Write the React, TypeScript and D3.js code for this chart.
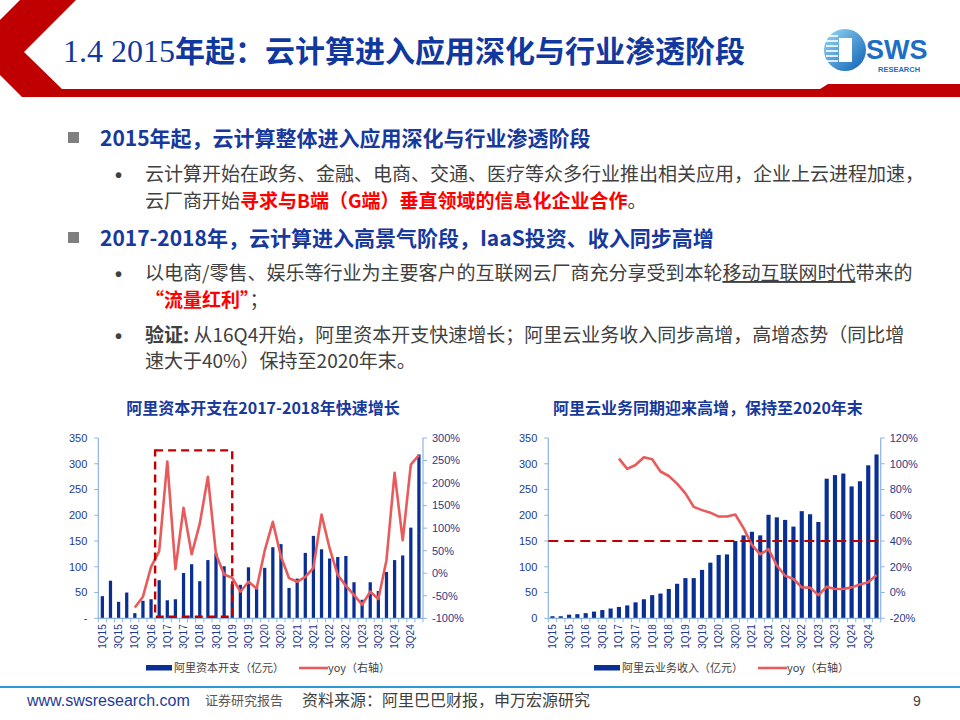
import React from 'react';
import * as d3 from 'd3';

// quarters shown on both charts
const quarters = [
  '1Q15', '2Q15', '3Q15', '4Q15', '1Q16', '2Q16', '3Q16', '4Q16',
  '1Q17', '2Q17', '3Q17', '4Q17', '1Q18', '2Q18', '3Q18', '4Q18',
  '1Q19', '2Q19', '3Q19', '4Q19', '1Q20', '2Q20', '3Q20', '4Q20',
  '1Q21', '2Q21', '3Q21', '4Q21', '1Q22', '2Q22', '3Q22', '4Q22',
  '1Q23', '2Q23', '3Q23', '4Q23', '1Q24', '2Q24', '3Q24', '4Q24',
];

// 阿里资本开支（亿元）
const capex = [
  43, 73, 32, 50, 10, 34, 37, 74,
  35, 37, 88, 105, 72, 113, 126, 101,
  66, 65, 99, 61, 98, 138, 144, 59,
  77, 127, 160, 134, 116, 119, 121, 70,
  36, 70, 53, 90, 113, 122, 176, 318,
];
// yoy（右轴）, %
const capexYoy = [
  null, null, null, null, -76, -52, 14, 49,
  248, 9, 145, 42, 110, 214, 42, -3,
  -10, -41, -19, -34, 50, 114, 37, -11,
  -19, -8, 12, 130, 55, -4, -28, -48,
  -70, -41, -57, 29, 223, 73, 241, 262,
];

// 阿里云业务收入（亿元）
const cloudRevenue = [
  4, 4, 7, 8, 10, 13, 16, 19,
  22, 25, 31, 37, 45, 48, 57, 67,
  78, 78, 94, 108, 123, 124, 150, 161,
  168, 161, 201, 196, 191, 178, 208, 202,
  187, 271, 278, 281, 256, 266, 297, 318,
];
const cloudYoy = [
  null, null, null, null, null, null, null, null,
  104, 96, 99, 105, 103.5, 94, 90.5, 84.6,
  77, 66.5, 64, 62, 59, 59, 60.6, 50,
  37, 29.6, 33.7, 21, 13, 10.5, 4, 3.8,
  -2, 4.5, 2.7, 2.7, 4, 6.3, 8, 13.6,
];

const amountTicks = [0, 50, 100, 150, 200, 250, 300, 350];
const capexYoyTicks = [-100, -50, 0, 50, 100, 150, 200, 250, 300];
const cloudYoyTicks = [-20, 0, 20, 40, 60, 80, 100, 120];

// dashed highlight box on the capex chart
const highlightFrom = '4Q16';
const highlightTo = '1Q19';
const highlightTop = 326;
const highlightBottom = 3;
// dashed threshold on the cloud chart
const yoyThreshold = 40;

const BLUE = '#0A2F93';
const RED_LINE = '#E95A5B';
const DARK_RED = '#C00000';
const AXIS = '#8DB3E2';
const TICK_TXT = '#1F3A8A';
const SANS = "'Liberation Sans', Arial, 'Noto Sans CJK SC', sans-serif";
const CJK = "'Noto Sans CJK SC', 'Liberation Sans', sans-serif";

const DualChart = (props) => {
  const { left, right, top, bottom, bars, yoy, rDomain, rTicks, barFrac,
    zeroDash, title, titleX, legendBar, legendLine, legendX, box, threshold } = props;

  const x = d3.scaleBand().domain(quarters).range([left, right]);
  const y = d3.scaleLinear().domain([0, 350]).range([bottom, top]);
  const r = d3.scaleLinear().domain(rDomain).range([bottom, top]);
  const cx = (q) => x(q) + x.bandwidth() / 2;
  const bw = x.bandwidth() * barFrac;

  const pts = quarters.map((q, i) => [q, yoy[i]]);
  const line = d3.line()
    .defined(d => d[1] != null)
    .x(d => cx(d[0]))
    .y(d => r(d[1]));

  return (
    <g>
      <text x={titleX} y={414} textAnchor="middle" fontFamily={CJK} fontWeight="bold"
        fontSize={16} fill="#17389C">{title}</text>

      {/* bars */}
      {quarters.map((q, i) => (
        <rect key={q} x={cx(q) - bw / 2} y={y(bars[i])} width={bw}
          height={y(0) - y(bars[i])} fill={BLUE} />
      ))}

      {/* axes */}
      <line x1={left} x2={left} y1={top} y2={bottom} stroke={AXIS} strokeWidth={1.2} />
      <line x1={right} x2={right} y1={top} y2={bottom} stroke={AXIS} strokeWidth={1.2} />
      <line x1={left} x2={right} y1={bottom} y2={bottom} stroke={AXIS} strokeWidth={1.2} />
      {quarters.map(q => (
        <line key={'t' + q} x1={x(q)} x2={x(q)} y1={bottom} y2={bottom + 4} stroke={AXIS} />
      ))}
      <line x1={right} x2={right} y1={bottom} y2={bottom + 4} stroke={AXIS} />
      {amountTicks.map(v => (
        <g key={'l' + v}>
          <line x1={left - 4} x2={left} y1={y(v)} y2={y(v)} stroke={AXIS} />
          <text x={left - 11} y={y(v)} dy="0.35em" textAnchor="end" fontFamily={SANS}
            fontSize={11} fill={TICK_TXT}>{v === 0 && zeroDash ? '-' : v}</text>
        </g>
      ))}
      {rTicks.map(v => (
        <g key={'r' + v}>
          <line x1={right} x2={right + 4} y1={r(v)} y2={r(v)} stroke={AXIS} />
          <text x={right + 9} y={r(v)} dy="0.35em" fontFamily={SANS}
            fontSize={11} fill={TICK_TXT}>{v + '%'}</text>
        </g>
      ))}
      {quarters.filter((q, i) => i % 2 === 0).map(q => (
        <text key={'x' + q} transform={`translate(${cx(q) + 3.5},${bottom + 6}) rotate(-90)`}
          textAnchor="end" fontFamily={SANS} fontSize={10} fill={TICK_TXT}>{q}</text>
      ))}

      {/* yoy line */}
      <path d={line(pts)} fill="none" stroke={RED_LINE} strokeWidth={2.6} strokeLinejoin="round" />

      {box && (
        <rect x={x(box.from)} y={y(box.top)} width={cx(box.to) - x(box.from)}
          height={y(box.bottom) - y(box.top)} fill="none" stroke={DARK_RED}
          strokeWidth={2.4} strokeDasharray="8,5" />
      )}
      {threshold != null && (
        <line x1={left} x2={right} y1={r(threshold)} y2={r(threshold)} stroke={DARK_RED}
          strokeWidth={2} strokeDasharray="10,6" />
      )}

      {/* legend */}
      <rect x={legendX[0]} y={665} width={26} height={5.5} fill={BLUE} />
      <text x={legendX[0] + 28} y={672} fontFamily={CJK} fontSize={11} fill="#404040">{legendBar}</text>
      <line x1={legendX[1]} x2={legendX[1] + 29} y1={668} y2={668} stroke={RED_LINE} strokeWidth={2.6} />
      <text x={legendX[1] + 29} y={672} fontFamily={CJK} fontSize={11} fill="#404040">{legendLine}</text>
    </g>
  );
};

const TXT = '#404040';
const HEAD = '#17389C';

const App = () => {
  return (
    <svg width={960} height={720} style={{ position: 'absolute', left: 0, top: 0, background: '#fff' }}>
      <rect width={960} height={720} fill="#fff" />
      <defs>
        <linearGradient id="logoGrad" x1="0" y1="0" x2="1" y2="1">
          <stop offset="0" stopColor="#9ADAF7" />
          <stop offset="1" stopColor="#0B5FB4" />
        </linearGradient>
      </defs>

      {/* header band */}
      <polygon points="20,0 76,0 24,52 62,89 820,89 828,84 960,84 960,97 22,97 0,75 0,20" fill="#C00000" />
      <text x={63} y={62} fill="#11389E" fontSize={30}>
        <tspan fontFamily="'Liberation Serif', serif" fontSize={32}>1.4 2015</tspan>
        <tspan fontFamily={CJK} fontWeight="bold">年起：云计算进入应用深化与行业渗透阶段</tspan>
      </text>

      {/* logo */}
      <circle cx={845} cy={50} r={21} fill="url(#logoGrad)" />
      <rect x={839} y={38} width={13} height={24} fill="#fff" />
      {[36, 41, 46, 51, 56, 61].map(v => (
        <line key={v} x1={826} x2={838} y1={v} y2={v} stroke="#fff" strokeWidth={1.6} />
      ))}
      <text x={866} y={59} fontFamily="'Liberation Sans', sans-serif" fontWeight="bold" fontSize={27}
        fill="#1C6FC4">SWS</text>
      <text x={878} y={72} fontFamily="'Liberation Sans', sans-serif" fontWeight="bold" fontSize={7.5}
        fill="#1C6FC4">RESEARCH</text>

      {/* bullet text */}
      <rect x={68} y={132} width={11} height={11} fill="#7F7F7F" />
      <text x={100} y={146} fontFamily={CJK} fontWeight="bold" fontSize={21} fill={HEAD}>
        2015年起，云计算整体进入应用深化与行业渗透阶段</text>
      <text x={115} y={182} fontFamily={SANS} fontSize={20} fontWeight="bold" fill={TXT}>•</text>
      <text x={145} y={181} fontFamily={CJK} fontSize={19} fill={TXT}>
        云计算开始在政务、金融、电商、交通、医疗等众多行业推出相关应用，企业上云进程加速，</text>
      <text x={145} y={208} fontFamily={CJK} fontSize={19} fill={TXT}>
        云厂商开始<tspan fill="#FF0000" fontWeight="bold">寻求与B端（G端）垂直领域的信息化企业合作</tspan>。</text>

      <rect x={68} y={232} width={11} height={11} fill="#7F7F7F" />
      <text x={100} y={246} fontFamily={CJK} fontWeight="bold" fontSize={21} fill={HEAD}>
        2017-2018年，云计算进入高景气阶段，IaaS投资、收入同步高增</text>
      <text x={115} y={281} fontFamily={SANS} fontSize={20} fontWeight="bold" fill={TXT}>•</text>
      <text x={145} y={280} fontFamily={CJK} fontSize={19} fill={TXT}>
        以电商/零售、娱乐等行业为主要客户的互联网云厂商充分享受到本轮<tspan textDecoration="underline">移动互联网时代</tspan>带来的</text>
      <text x={145} y={307} fontFamily={CJK} fontSize={19} fill={TXT}>
        <tspan fill="#FF0000" fontWeight="bold">“流量红利”</tspan>；</text>
      <text x={115} y={343} fontFamily={SANS} fontSize={20} fontWeight="bold" fill={TXT}>•</text>
      <text x={145} y={342} fontFamily={CJK} fontSize={19} fill={TXT}>
        <tspan fontWeight="bold">验证:</tspan> 从16Q4开始，阿里资本开支快速增长；阿里云业务收入同步高增，高增态势（同比增</text>
      <text x={145} y={368} fontFamily={CJK} fontSize={19} fill={TXT}>
        速大于40%）保持至2020年末。</text>

      <DualChart left={98.3} right={423} top={438} bottom={618.3}
        bars={capex} yoy={capexYoy} rDomain={[-100, 300]} rTicks={capexYoyTicks}
        barFrac={0.4} zeroDash={true}
        title="阿里资本开支在2017-2018年快速增长" titleX={263}
        legendBar="阿里资本开支（亿元）" legendLine="yoy（右轴）" legendX={[146, 299]}
        box={{ from: highlightFrom, to: highlightTo, top: highlightTop, bottom: highlightBottom }} />

      <DualChart left={548.3} right={880.7} top={438} bottom={618.3}
        bars={cloudRevenue} yoy={cloudYoy} rDomain={[-20, 120]} rTicks={cloudYoyTicks}
        barFrac={0.5} zeroDash={false}
        title="阿里云业务同期迎来高增，保持至2020年末" titleX={708}
        legendBar="阿里云业务收入（亿元）" legendLine="yoy（右轴）" legendX={[594, 758]}
        threshold={yoyThreshold} />

      {/* footer */}
      <line x1={0} x2={960} y1={687} y2={687} stroke="#2A9BD7" strokeWidth={2} />
      <text x={27} y={706} fontFamily={SANS} fontSize={16} fill="#1F3C99">www.swsresearch.com</text>
      <text x={205} y={705} fontFamily={CJK} fontSize={13} fill="#595959">证券研究报告</text>
      <text x={302} y={706} fontFamily={CJK} fontSize={16} fill={TXT}>资料来源：阿里巴巴财报，申万宏源研究</text>
      <text x={913} y={706} fontFamily={SANS} fontSize={14} fill="#404040">9</text>
    </svg>
  );
};

export default App;
